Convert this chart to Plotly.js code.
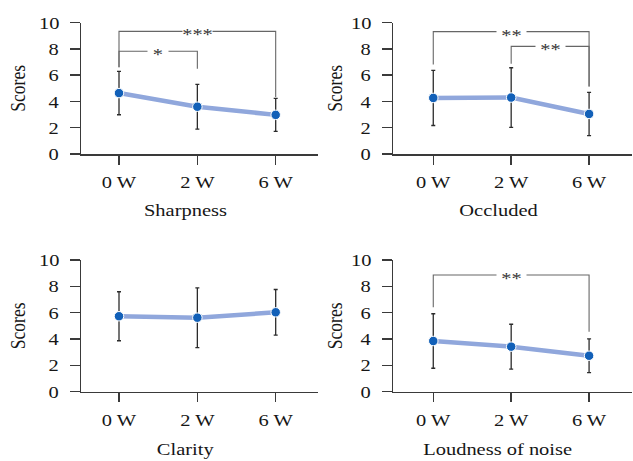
<!DOCTYPE html>
<html>
<head>
<meta charset="utf-8">
<script src="https://cdn.plot.ly/plotly-3.0.1.min.js"></script>
<style>html,body{margin:0;padding:0;background:#fff}#chart{width:633px;height:461px}</style>
</head>
<body>
<div id="chart"></div>
<script>
// ---- data ----
const categories = ["0 W", "2 W", "6 W"];
const panelNames = ["Sharpness", "Occluded", "Clarity", "Loudness of noise"];

const sharpnessMean = [4.64, 3.60, 2.98];
const sharpnessSD   = [1.65, 1.70, 1.25];
const occludedMean  = [4.27, 4.30, 3.05];
const occludedSD    = [2.10, 2.27, 1.65];
const clarityMean   = [5.73, 5.62, 6.03];
const claritySD     = [1.86, 2.27, 1.73];
const loudnessMean  = [3.85, 3.42, 2.73];
const loudnessSD    = [2.07, 1.70, 1.28];

// significance brackets: [fromIdx, toIdx, barY, leftFootY, rightFootY, label]
const sharpnessBrackets = [[0, 2, 9.34, 6.6, 4.34, "***"], [0, 1, 7.83, 6.6, 6.5, "*"]];
const occludedBrackets  = [[0, 2, 9.32, 6.82, 5.15, "**"], [1, 2, 8.2, 6.87, 5.15, "**"]];
const clarityBrackets   = [];
const loudnessBrackets  = [[0, 2, 8.86, 6.41, 4.56, "**"]];

const yTickVals = [0, 2, 4, 6, 8, 10];

// ---- build ----
const panels = [
  {mean: sharpnessMean, sd: sharpnessSD, br: sharpnessBrackets},
  {mean: occludedMean,  sd: occludedSD,  br: occludedBrackets},
  {mean: clarityMean,   sd: claritySD,   br: clarityBrackets},
  {mean: loudnessMean,  sd: loudnessSD,  br: loudnessBrackets}
];

const FONT = "Liberation Serif, Times New Roman, serif";
const FS = 17.5;
const TXT = "#161616";
const W = 633, H = 461;
const xDomL = [81 / W, 318 / W], xDomR = [393 / W, 632 / W];
const yDomT = [1 - 154 / H, 1 - 22.7 / H], yDomB = [1 - 391.7 / H, 1 - 260 / H];
const xRangeL = [-0.485, 2.54], xRangeR = [-0.517, 2.551];

const traces = [];
const layout = {
  width: W, height: H,
  margin: {l: 0, r: 0, t: 0, b: 0},
  paper_bgcolor: "#fff", plot_bgcolor: "#fff",
  showlegend: false,
  font: {family: FONT, size: FS, color: TXT},
  annotations: []
};

const titlePos = [[185, 210], [498, 210], [185, 449], [498, 449]];

panels.forEach((p, i) => {
  const n = i + 1;
  const xa = "x" + (n === 1 ? "" : n), ya = "y" + (n === 1 ? "" : n);
  const left = (i % 2 === 0), top = (i < 2);
  const idx = categories.map((c, k) => k);

  traces.push({
    type: "scatter", mode: "lines", x: idx, y: p.mean, xaxis: xa, yaxis: ya,
    line: {color: "#90a7dc", width: 4.5}, hoverinfo: "skip"
  });
  traces.push({
    type: "scatter", mode: "markers", x: idx, y: p.mean, xaxis: xa, yaxis: ya,
    marker: {color: "#1260b8", size: 9.5, line: {color: "#fff", width: 1}},
    error_y: {type: "data", array: p.sd, visible: true, color: "#2b2b2b", thickness: 1.3, width: 2}
  });
  p.br.forEach(b => {
    const [a, c, yb, yl, yr, lab] = b;
    traces.push({
      type: "scatter", mode: "lines", x: [a, a, c, c], y: [yl, yb, yb, yr],
      xaxis: xa, yaxis: ya, line: {color: "#666", width: 1.1}, hoverinfo: "skip"
    });
    layout.annotations.push({
      xref: xa, yref: ya, x: (a + c) / 2, y: yb, text: lab, showarrow: false,
      bgcolor: "#fff", width: lab.length === 1 ? 18 : 27, height: 12, borderpad: 1,
      font: {family: FONT, size: FS, color: "#333"}, yshift: -3
    });
  });

  const xKey = "xaxis" + (n === 1 ? "" : n), yKey = "yaxis" + (n === 1 ? "" : n);
  layout[xKey] = {
    domain: left ? xDomL : xDomR, anchor: ya,
    range: left ? xRangeL : xRangeR, tickvals: idx, ticktext: categories,
    showline: true, linecolor: "#3a3a3a", linewidth: 1.5, ticks: "outside", ticklen: 9,
    tickcolor: "#3a3a3a", tickwidth: 1.5, showgrid: false, zeroline: false,
    tickfont: {family: FONT, size: FS, color: TXT}, ticklabelstandoff: 3, fixedrange: true
  };
  layout[yKey] = {
    domain: top ? yDomT : yDomB, anchor: xa, range: [0, 10], tickvals: yTickVals,
    showline: true, linecolor: "#3a3a3a", linewidth: 1.5, ticks: "outside", ticklen: 10,
    tickcolor: "#3a3a3a", tickwidth: 1.5, showgrid: false, zeroline: false,
    tickfont: {family: FONT, size: FS, color: TXT}, ticklabelstandoff: 8,
    title: {text: "Scores", font: {family: FONT, size: FS, color: TXT}, standoff: left ? 11 : 6},
    fixedrange: true
  };
  layout.annotations.push({
    xref: "paper", yref: "paper", x: titlePos[i][0] / W, y: 1 - titlePos[i][1] / H,
    xanchor: "center", yanchor: "middle", text: panelNames[i], showarrow: false,
    font: {family: FONT, size: FS, color: TXT}
  });
});

// The reference typeface appears horizontally widened; widen each text around its own centre.
function widenText(gd) {
  gd.querySelectorAll("svg text").forEach(el => {
    if (!el.textContent) return;
    const bb = el.getBBox();
    const cx = bb.x + bb.width / 2, cy = bb.y + bb.height / 2;
    const t = el.getAttribute("transform") || "";
    const rotated = /rotate\(\s*-?90/.test(t);
    const s = rotated ? "scale(1,1.17)" : "scale(1.17,1)";
    el.setAttribute("transform", t + " translate(" + cx + "," + cy + ") " + s + " translate(" + (-cx) + "," + (-cy) + ")");
  });
}

Plotly.newPlot("chart", traces, layout, {displayModeBar: false, staticPlot: true})
  .then(gd => widenText(gd));
</script>
</body>
</html>
